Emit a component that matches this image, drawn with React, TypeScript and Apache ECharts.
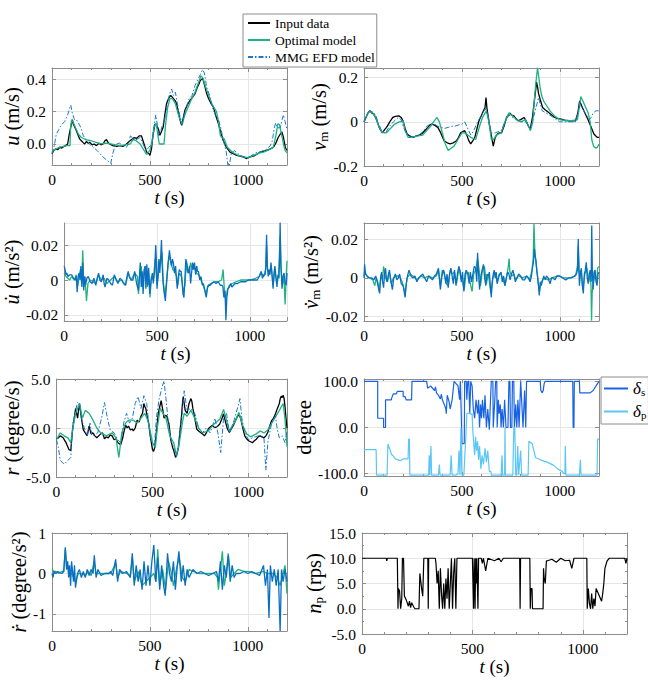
import React, { useEffect, useRef } from 'react';
import * as echarts from 'echarts';

type Pt = [number, number];

const SERIF = 'Liberation Serif';
const AX = '#8c8c8c';
const GRIDC = '#e6e6e6';
const BLACK = '#000000';
const GREEN = '#1fb27c';
const BLUE_DD = '#1a78cf';
const BLUE_ACC = '#0a6fc2';
const DS = '#1862e6';
const DP = '#5ac6f7';

// ---------- Panel 1: u (m/s) ----------
const uInput: Pt[] = [[0,-0.06],[10,-0.04],[20,-0.03],[30,-0.035],[40,-0.02],[50,-0.025],[60,-0.015],[70,-0.01],[80,0.0],[88,0.06],[95,0.1],[104,0.15],[110,0.12],[116,0.105],[125,0.08],[135,0.05],[142,0.03],[150,0.02],[158,0.01],[167,0.0],[175,0.015],[185,0.005],[193,0.01],[205,-0.005],[215,0.0],[227,-0.01],[240,0.005],[250,-0.005],[261,0.0],[270,0.02],[278,0.027],[286,0.01],[295,0.0],[310,-0.01],[330,-0.015],[345,-0.01],[363,-0.015],[380,0.0],[398,0.02],[410,0.03],[420,0.04],[433,0.035],[445,0.05],[457,0.05],[470,0.0],[483,-0.05],[495,-0.06],[500,-0.07],[508,-0.03],[515,0.05],[526,0.125],[535,0.11],[543,0.095],[551,0.054],[560,0.08],[568,0.105],[576,0.18],[585,0.25],[595,0.28],[605,0.3],[611,0.295],[620,0.28],[628,0.27],[636,0.25],[648,0.18],[656,0.14],[662,0.115],[670,0.16],[679,0.21],[690,0.24],[705,0.27],[718,0.29],[730,0.31],[742,0.35],[750,0.37],[756,0.39],[763,0.4],[770,0.404],[780,0.36],[790,0.31],[800,0.28],[812,0.25],[824,0.23],[835,0.18],[850,0.125],[862,0.07],[875,0.02],[890,-0.02],[909,-0.05],[925,-0.06],[944,-0.07],[960,-0.075],[975,-0.08],[985,-0.085],[995,-0.09],[1010,-0.08],[1029,-0.075],[1045,-0.065],[1063,-0.05],[1080,-0.045],[1097,-0.04],[1115,-0.03],[1131,-0.02],[1145,0.01],[1155,0.04],[1165,0.06],[1174,0.075],[1182,0.04],[1191,-0.02],[1200,-0.04]];
const uOpt: Pt[] = [[0,-0.05],[20,-0.03],[40,-0.02],[60,-0.015],[75,-0.01],[92,-0.01],[95,0.1],[100,0.15],[110,0.13],[120,0.1],[135,0.06],[150,0.04],[175,0.025],[200,0.02],[225,0.01],[250,0.0],[275,0.005],[300,0.0],[325,-0.005],[350,-0.01],[375,-0.005],[400,0.0],[415,0.03],[430,0.02],[450,0.0],[470,-0.04],[483,-0.065],[500,-0.04],[512,0.02],[520,0.1],[532,0.13],[540,0.06],[548,0.0],[560,0.0],[572,0.0],[580,0.12],[590,0.22],[602,0.28],[615,0.28],[630,0.25],[648,0.17],[665,0.12],[678,0.18],[692,0.22],[710,0.27],[730,0.32],[745,0.37],[760,0.42],[770,0.41],[785,0.35],[800,0.3],[820,0.24],[840,0.2],[850,0.14],[860,0.05],[868,0.04],[880,0.03],[895,-0.02],[920,-0.05],[950,-0.07],[980,-0.08],[1000,-0.085],[1030,-0.07],[1060,-0.055],[1080,-0.05],[1110,-0.035],[1130,-0.02],[1143,0.05],[1153,0.125],[1162,0.12],[1172,0.06],[1182,0.0],[1190,-0.04],[1200,-0.055]];
const uMmg: Pt[] = [[0,-0.06],[10,-0.02],[22,0.06],[35,0.09],[50,0.12],[65,0.14],[80,0.18],[90,0.22],[96,0.24],[104,0.19],[115,0.15],[125,0.15],[135,0.13],[148,0.1],[160,0.05],[175,0.03],[190,0.0],[210,-0.02],[230,-0.04],[245,-0.06],[260,-0.08],[280,-0.1],[300,-0.12],[310,-0.06],[320,-0.02],[330,0.0],[345,0.005],[360,-0.01],[380,-0.02],[392,0.0],[400,0.05],[410,0.04],[420,0.02],[435,0.03],[450,0.04],[465,0.0],[480,-0.04],[495,-0.02],[510,0.0],[520,0.1],[530,0.18],[538,0.12],[545,0.05],[555,0.08],[565,0.12],[575,0.15],[590,0.25],[600,0.31],[611,0.34],[620,0.3],[630,0.32],[640,0.25],[652,0.18],[665,0.12],[680,0.2],[700,0.28],[715,0.3],[730,0.36],[745,0.4],[758,0.43],[768,0.46],[778,0.44],[790,0.35],[805,0.3],[820,0.22],[835,0.18],[850,0.15],[862,0.1],[870,0.05],[880,0.0],[890,-0.05],[898,-0.13],[905,-0.14],[915,-0.06],[930,-0.04],[945,-0.055],[960,-0.07],[980,-0.08],[1000,-0.09],[1020,-0.07],[1040,-0.055],[1060,-0.05],[1080,-0.04],[1100,-0.03],[1115,-0.01],[1125,0.02],[1135,0.1],[1142,0.13],[1152,0.1],[1165,0.1],[1175,0.15],[1182,0.18],[1190,0.14],[1200,0.09]];

// ---------- Panel 2: v_m (m/s) ----------
const vInput: Pt[] = [[0,0.0],[10,0.02],[20,0.04],[31,0.05],[40,0.04],[50,0.035],[63,0.012],[72,-0.01],[80,-0.03],[94,-0.05],[105,-0.035],[115,-0.025],[125,-0.01],[135,0.005],[147,0.02],[160,0.025],[178,0.027],[190,0.02],[199,0.005],[210,-0.03],[220,-0.055],[235,-0.065],[252,-0.07],[265,-0.065],[280,-0.06],[294,-0.055],[310,-0.04],[325,-0.026],[336,-0.015],[346,-0.01],[360,-0.015],[377,-0.025],[392,-0.05],[409,-0.086],[425,-0.095],[440,-0.1],[456,-0.095],[472,-0.086],[483,-0.07],[493,-0.05],[503,-0.045],[514,-0.04],[525,-0.06],[535,-0.085],[545,-0.1],[556,-0.085],[566,-0.07],[577,-0.03],[587,0.005],[600,0.03],[610,0.05],[618,0.065],[623,0.11],[628,0.06],[640,-0.01],[650,-0.06],[660,-0.11],[670,-0.07],[681,-0.055],[692,-0.05],[702,-0.05],[715,-0.02],[728,0.02],[744,0.04],[755,0.03],[765,0.027],[776,0.015],[786,0.005],[800,0.01],[818,0.02],[830,0.0],[840,-0.02],[849,-0.033],[860,0.02],[870,0.095],[876,0.14],[881,0.18],[886,0.16],[891,0.13],[900,0.1],[912,0.065],[925,0.055],[943,0.042],[960,0.03],[975,0.02],[990,0.015],[1006,0.012],[1025,0.008],[1048,0.005],[1065,0.005],[1080,0.005],[1092,0.04],[1101,0.095],[1108,0.08],[1115,0.065],[1128,0.04],[1143,0.012],[1158,-0.02],[1174,-0.055],[1185,-0.065],[1191,-0.07],[1200,-0.07]];
const vOpt: Pt[] = [[0,0.0],[15,0.03],[30,0.05],[45,0.04],[60,0.02],[75,-0.02],[90,-0.045],[105,-0.05],[115,-0.05],[135,-0.03],[157,-0.01],[180,0.0],[199,0.005],[210,-0.04],[225,-0.07],[245,-0.07],[270,-0.065],[300,-0.06],[320,-0.04],[340,-0.02],[355,0.0],[373,0.02],[385,0.0],[400,-0.05],[415,-0.1],[430,-0.13],[445,-0.12],[460,-0.11],[480,-0.08],[500,-0.05],[515,-0.05],[530,-0.06],[545,-0.07],[570,-0.08],[590,-0.02],[605,0.02],[625,0.05],[638,0.0],[650,-0.08],[662,-0.08],[675,-0.06],[700,-0.05],[720,0.0],[740,0.04],[760,0.025],[780,0.01],[800,0.0],[825,0.01],[850,-0.04],[862,0.0],[870,0.1],[878,0.18],[883,0.22],[886,0.245],[893,0.2],[900,0.15],[910,0.11],[920,0.09],[935,0.07],[950,0.05],[975,0.025],[1000,0.01],[1030,0.005],[1060,0.005],[1090,0.01],[1100,0.07],[1107,0.115],[1115,0.1],[1130,0.07],[1145,0.04],[1155,0.0],[1163,-0.08],[1172,-0.11],[1185,-0.12],[1192,-0.115],[1200,-0.1]];
const vMmg: Pt[] = [[0,0.0],[15,0.03],[30,0.05],[45,0.045],[60,0.03],[75,-0.01],[90,-0.04],[110,-0.05],[130,-0.02],[150,0.0],[175,0.02],[190,0.01],[200,-0.02],[215,-0.05],[230,-0.07],[255,-0.065],[280,-0.06],[300,-0.045],[320,-0.02],[340,-0.01],[360,-0.01],[377,-0.02],[395,-0.025],[410,-0.03],[430,-0.025],[445,-0.02],[461,-0.02],[480,-0.015],[500,-0.01],[514,0.0],[525,-0.02],[545,-0.06],[560,-0.04],[580,0.0],[600,0.03],[620,0.06],[635,0.02],[650,-0.05],[670,-0.05],[700,-0.04],[720,0.0],[740,0.03],[760,0.02],[780,0.01],[800,0.0],[825,0.0],[850,-0.03],[865,0.02],[880,0.07],[891,0.11],[900,0.08],[910,0.05],[930,0.04],[950,0.03],[975,0.015],[1000,0.0],[1030,0.0],[1060,0.0],[1080,0.0],[1095,0.05],[1105,0.08],[1115,0.06],[1130,0.04],[1150,0.01],[1160,0.02],[1170,0.04],[1185,0.05],[1200,0.05]];

// ---------- Panel 3: u-dot (m/s^2) ----------
const uDotOpt: Pt[] = [[0,0.004],[10,0.002],[20,0.001],[30,0.0],[40,0.002],[55,0.0],[65,0.003],[72,-0.004],[80,0.002],[88,0.006],[94,-0.002],[100,0.017],[106,-0.004],[112,0.002],[120,-0.012],[128,-0.002],[140,0.0],[155,-0.001],[170,-0.002],[185,0.003],[200,0.0],[215,0.001],[230,-0.002],[250,0.0],[270,0.002],[290,-0.001],[310,0.0],[330,-0.003],[345,0.004],[360,0.0],[380,0.004],[395,0.002],[400,-0.008],[408,0.004],[415,0.008],[422,-0.004],[430,0.006],[440,0.008],[448,-0.004],[455,0.004],[462,-0.01],[470,0.002],[480,0.0],[490,0.012],[500,-0.003],[510,0.006],[520,0.01],[527,0.016],[533,0.0],[542,-0.009],[550,-0.002],[560,0.01],[568,0.014],[575,0.01],[585,0.006],[595,0.005],[605,0.002],[612,-0.003],[620,0.004],[632,0.002],[642,-0.007],[650,-0.003],[658,0.01],[665,0.004],[675,0.006],[681,0.01],[690,0.006],[700,0.008],[712,0.004],[725,0.003],[740,-0.001],[752,-0.004],[765,-0.008],[775,-0.003],[790,-0.002],[810,-0.001],[830,-0.001],[848,0.0],[856,0.006],[863,-0.006],[870,-0.012],[878,-0.006],[890,-0.003],[905,-0.002],[925,-0.001],[950,0.0],[975,0.0],[1000,0.0],[1030,0.001],[1050,0.002],[1062,0.004],[1075,0.002],[1085,0.006],[1090,0.02],[1095,0.006],[1105,0.004],[1115,0.008],[1125,-0.003],[1135,0.006],[1145,-0.002],[1155,0.004],[1163,0.025],[1168,0.006],[1175,-0.003],[1183,0.002],[1190,-0.014],[1196,0.003],[1200,0.011]];
const uDotData: Pt[] = [[0,0.008],[5,0.006],[10,0.003],[15,0.004],[20,0.002],[30,0.003],[40,0.003],[50,0.001],[60,0.0],[65,0.002],[70,-0.007],[75,0.002],[80,0.004],[85,0.0],[90,0.008],[95,-0.004],[100,0.01],[105,-0.006],[110,0.002],[115,-0.003],[122,0.001],[130,0.002],[140,-0.001],[150,-0.002],[160,0.001],[170,-0.003],[178,0.001],[185,0.004],[192,0.0],[200,-0.001],[210,0.003],[215,-0.002],[220,-0.004],[230,0.001],[240,0.0],[250,-0.002],[260,-0.003],[270,0.003],[280,0.0],[290,-0.002],[300,0.001],[310,0.0],[320,-0.002],[330,-0.003],[340,0.003],[345,0.005],[350,0.002],[360,0.0],[370,0.0],[380,0.005],[390,-0.002],[400,-0.006],[405,0.002],[410,0.01],[415,-0.004],[420,0.005],[425,-0.008],[430,0.003],[435,0.008],[440,-0.005],[445,0.009],[450,-0.003],[455,0.007],[461,-0.008],[468,0.0],[475,0.004],[480,-0.002],[487,0.005],[493,0.02],[497,0.01],[500,-0.005],[505,0.002],[510,0.012],[515,0.004],[520,0.014],[524,0.023],[528,0.008],[533,-0.002],[538,-0.007],[545,-0.012],[550,-0.004],[555,0.003],[560,0.01],[567,0.017],[572,0.012],[578,0.008],[583,0.012],[588,0.01],[594,0.004],[600,0.008],[605,0.0],[609,-0.005],[615,0.002],[620,0.006],[625,0.005],[630,0.005],[636,-0.003],[640,-0.008],[645,-0.01],[650,0.0],[655,0.012],[660,0.01],[665,0.006],[670,0.004],[675,0.008],[681,-0.002],[686,0.004],[692,0.01],[697,0.006],[702,0.01],[708,0.003],[714,0.008],[718,0.005],[723,0.005],[730,0.0],[737,0.002],[744,-0.003],[750,-0.002],[757,-0.006],[765,-0.01],[772,-0.004],[780,-0.003],[786,-0.003],[795,-0.002],[805,-0.001],[818,-0.002],[830,-0.001],[840,-0.003],[850,-0.003],[855,-0.004],[860,-0.01],[866,-0.006],[871,-0.023],[876,-0.01],[882,-0.005],[890,-0.004],[897,-0.002],[903,-0.004],[912,-0.003],[920,-0.002],[934,-0.002],[950,-0.001],[965,-0.001],[977,-0.001],[992,0.0],[1008,0.0],[1025,0.0],[1040,0.0],[1050,0.002],[1061,0.005],[1068,0.001],[1075,0.003],[1082,0.003],[1086,0.008],[1090,0.026],[1094,0.008],[1099,0.002],[1104,0.006],[1108,0.003],[1114,0.01],[1120,0.002],[1125,-0.005],[1130,0.004],[1135,0.008],[1140,0.002],[1146,-0.004],[1152,0.003],[1157,0.001],[1160,0.012],[1163,0.033],[1167,0.01],[1173,-0.005],[1178,0.002],[1184,0.004],[1190,-0.002],[1196,-0.003],[1200,0.004]];

// ---------- Panel 4: v_m-dot (m/s^2) ----------
const vDotOpt: Pt[] = [[0,0.001],[5,0.003],[15,0.001],[30,0.0],[45,-0.001],[55,-0.004],[62,0.0],[70,-0.002],[78,-0.006],[88,0.002],[95,-0.001],[100,0.006],[108,0.001],[118,-0.002],[128,0.003],[140,-0.003],[150,0.0],[165,0.001],[180,0.001],[195,-0.002],[210,-0.008],[220,0.0],[235,0.002],[250,0.001],[270,-0.001],[290,0.001],[310,0.0],[330,0.001],[350,0.0],[370,0.001],[380,0.004],[390,-0.004],[400,0.004],[410,0.002],[420,-0.003],[430,-0.004],[440,0.004],[450,0.002],[462,0.003],[472,-0.003],[485,0.005],[495,0.0],[505,-0.003],[512,-0.006],[520,0.002],[532,0.003],[545,-0.004],[552,-0.007],[560,0.002],[570,0.004],[580,0.01],[588,0.004],[595,-0.004],[605,0.004],[615,0.006],[625,-0.003],[635,0.002],[648,-0.008],[658,0.0],[668,0.003],[680,-0.002],[690,0.002],[700,0.002],[710,-0.001],[720,-0.004],[730,0.002],[737,0.006],[741,0.01],[745,0.003],[755,0.001],[765,0.002],[775,-0.001],[790,0.001],[810,0.0],[830,0.001],[845,-0.001],[858,0.004],[864,0.01],[868,0.028],[872,0.015],[878,0.008],[884,0.003],[890,-0.003],[896,-0.007],[905,-0.002],[920,0.0],[940,-0.001],[960,0.0],[990,0.001],[1020,0.0],[1050,0.0],[1080,0.001],[1090,0.006],[1094,0.016],[1099,0.002],[1108,0.004],[1118,-0.006],[1128,0.002],[1138,0.005],[1148,-0.002],[1155,0.002],[1159,-0.004],[1162,-0.022],[1165,-0.008],[1170,-0.003],[1180,0.002],[1188,-0.002],[1193,0.005],[1200,0.006]];
const vDotData: Pt[] = [[0,0.0],[3,0.007],[8,0.002],[15,0.001],[25,0.0],[40,0.0],[50,-0.001],[60,0.001],[70,-0.003],[75,-0.006],[80,-0.008],[85,0.0],[90,0.003],[95,-0.002],[100,-0.005],[105,0.002],[110,0.005],[115,-0.001],[120,-0.002],[125,0.002],[130,0.004],[138,-0.002],[145,-0.006],[152,0.0],[160,0.002],[168,-0.001],[175,0.0],[182,0.002],[190,-0.003],[200,-0.004],[210,-0.01],[216,-0.003],[222,0.001],[230,0.004],[240,0.001],[250,0.0],[260,0.001],[270,-0.002],[280,0.0],[290,0.001],[300,0.002],[310,0.0],[320,-0.002],[330,0.001],[340,0.0],[350,-0.001],[360,0.001],[370,0.002],[380,0.005],[385,0.0],[390,-0.006],[398,0.001],[405,0.004],[410,0.003],[418,-0.003],[424,0.002],[430,-0.005],[437,0.002],[444,0.005],[450,0.001],[456,-0.003],[462,0.004],[470,-0.004],[477,0.002],[484,0.006],[490,0.004],[497,-0.002],[503,0.003],[510,-0.007],[516,0.002],[522,0.004],[530,0.002],[537,-0.003],[543,0.003],[550,-0.002],[556,0.002],[563,0.006],[570,0.005],[576,-0.002],[580,0.013],[584,0.004],[590,-0.006],[597,0.001],[603,0.004],[610,0.007],[616,0.0],[622,-0.004],[628,0.002],[635,0.001],[640,0.003],[645,-0.004],[650,-0.01],[655,-0.002],[660,0.002],[665,0.004],[670,0.0],[675,0.003],[680,-0.003],[687,0.0],[693,0.002],[700,0.003],[706,-0.002],[713,0.001],[720,-0.004],[727,0.0],[734,0.003],[740,0.002],[746,-0.001],[753,0.002],[760,0.004],[767,0.001],[773,-0.002],[780,0.0],[790,0.002],[800,0.001],[810,-0.001],[820,-0.001],[830,0.001],[840,0.0],[848,-0.002],[855,0.001],[860,0.005],[865,0.008],[870,0.015],[874,0.011],[878,0.009],[882,0.004],[887,0.0],[891,-0.004],[895,-0.009],[900,-0.002],[905,-0.004],[910,-0.002],[918,0.001],[925,-0.001],[932,0.001],[940,0.0],[950,-0.003],[958,0.0],[965,0.0],[975,-0.001],[985,0.001],[1000,0.001],[1015,0.0],[1030,-0.001],[1045,0.0],[1060,0.0],[1075,0.001],[1085,0.002],[1090,0.004],[1094,0.02],[1097,0.006],[1100,-0.004],[1105,0.002],[1110,0.005],[1115,-0.004],[1120,-0.008],[1125,0.002],[1130,0.004],[1135,0.008],[1140,0.0],[1145,-0.003],[1150,0.002],[1155,0.004],[1160,-0.002],[1163,0.027],[1166,0.004],[1170,-0.006],[1175,0.003],[1180,0.004],[1185,-0.002],[1190,-0.004],[1195,0.002],[1200,0.003]];

// ---------- Panel 5: r (degree/s) ----------
const rInput: Pt[] = [[0,-1.1],[10,-1.0],[20,-0.8],[35,-1.0],[50,-1.5],[65,-2.2],[75,-2.3],[80,-1.0],[85,0.0],[95,1.3],[100,2.0],[105,1.5],[110,1.0],[115,1.8],[120,2.5],[125,1.8],[130,1.0],[140,-0.2],[150,-0.5],[160,-0.8],[170,0.2],[180,-0.6],[190,-0.5],[200,-0.8],[210,-1.0],[220,-0.8],[230,-0.6],[240,-0.5],[250,-1.1],[260,-0.9],[270,-1.0],[280,-0.7],[290,-0.8],[300,-1.2],[310,-1.1],[320,-1.5],[335,-1.7],[345,-1.0],[350,-0.5],[360,0.3],[368,0.0],[375,0.2],[385,-0.2],[395,-0.1],[400,-0.3],[410,0.0],[420,0.8],[430,0.6],[440,1.2],[448,1.5],[455,2.5],[460,2.2],[465,2.0],[472,1.2],[480,0.5],[490,-1.0],[500,-2.2],[505,-2.4],[510,-2.1],[520,-0.5],[530,1.5],[538,2.2],[545,2.8],[552,2.0],[560,1.0],[568,1.3],[575,1.2],[580,0.8],[585,0.5],[595,-1.2],[605,-2.0],[612,-2.4],[620,-3.0],[628,-2.6],[635,-2.0],[642,-0.5],[650,1.0],[656,2.5],[660,3.2],[665,2.5],[670,1.8],[680,1.5],[690,2.5],[700,3.0],[705,2.7],[710,2.0],[720,1.0],[730,-0.1],[740,-0.3],[750,-0.45],[760,-0.6],[770,-0.8],[780,-0.5],[790,-0.1],[800,0.1],[810,0.25],[820,0.1],[830,0.07],[840,0.2],[850,0.4],[860,0.9],[870,1.45],[880,0.6],[890,-0.1],[900,-0.45],[910,-0.1],[920,0.24],[935,0.9],[945,1.3],[955,1.2],[960,0.9],[970,0.0],[980,-0.8],[990,-1.1],[1000,-1.3],[1010,-1.4],[1020,-1.5],[1030,-1.3],[1040,-1.15],[1050,-0.9],[1060,-0.8],[1070,-0.9],[1080,-1.0],[1090,-0.8],[1100,-0.45],[1110,0.2],[1120,0.76],[1130,1.0],[1140,1.45],[1150,2.0],[1160,2.5],[1165,3.0],[1170,3.25],[1175,3.1],[1180,3.35],[1185,3.0],[1190,2.1],[1195,1.0],[1200,0.0]];
const rOpt: Pt[] = [[0,-1.2],[20,-0.5],[40,-0.8],[60,-1.0],[75,-1.5],[85,0.0],[100,1.5],[110,2.0],[120,2.5],[135,1.0],[150,1.8],[170,1.5],[190,0.8],[210,0.0],[230,-0.5],[260,-0.8],[290,-0.5],[310,-1.0],[325,-3.0],[340,-0.5],[360,0.5],[375,0.8],[400,0.8],[420,0.5],[440,1.0],[460,1.5],[475,0.8],[490,-0.5],[500,-1.5],[515,-2.0],[525,0.0],[540,2.0],[555,1.5],[570,1.0],[590,-0.8],[610,-1.5],[625,-2.8],[640,-1.5],[655,0.5],[665,1.5],[680,1.2],[700,1.8],[720,1.0],[740,0.0],[760,-0.5],[790,-0.3],[820,0.4],[850,0.9],[870,1.9],[885,0.8],[900,-0.3],[930,0.7],[950,1.6],[970,0.2],[990,-0.6],[1010,-0.9],[1040,-0.6],[1060,-0.3],[1080,-0.5],[1100,-0.2],[1130,0.8],[1160,1.8],[1180,2.5],[1190,0.8],[1200,-1.9]];
const rMmg: Pt[] = [[0,-1.2],[10,-2.0],[20,-3.3],[40,-3.7],[60,-3.3],[75,-3.0],[85,0.5],[100,1.8],[110,2.6],[120,2.4],[130,1.0],[145,0.0],[160,-0.8],[175,0.5],[185,-0.8],[200,-0.7],[215,-0.5],[235,1.0],[250,2.6],[265,1.0],[280,-0.2],[300,-0.5],[320,-1.2],[335,-1.5],[350,0.5],[365,1.5],[380,0.5],[395,1.0],[410,2.5],[425,3.2],[440,2.0],[455,3.3],[470,2.5],[485,-0.5],[495,-1.5],[510,-1.8],[520,1.0],[535,3.0],[550,4.2],[560,4.8],[570,3.0],[585,0.0],[600,-1.5],[615,-2.2],[625,-3.0],[640,-1.0],[655,1.5],[665,3.8],[680,1.8],[700,2.0],[720,1.5],[740,0.0],[760,-0.5],[780,0.0],[800,-0.5],[825,1.0],[840,-0.5],[855,-2.5],[870,1.0],[885,1.5],[900,-0.5],[920,0.5],[945,2.2],[955,3.0],[965,1.0],[980,-0.5],[1000,-1.2],[1020,-1.0],[1050,-0.8],[1080,-1.0],[1090,-4.3],[1100,-1.5],[1120,0.5],[1140,1.2],[1150,-0.2],[1160,-1.0],[1175,-0.8],[1190,-1.5],[1200,-0.3]];

// ---------- Panel 6: rudder angles (degree) ----------
const deltaS: Pt[] = [[0,100],[70,100],[70,20],[100,20],[100,0],[110,0],[110,60],[140,60],[140,62],[150,73],[165,73],[170,78],[200,78],[200,67],[210,67],[215,60],[243,60],[245,100],[320,100],[325,85],[335,88],[340,90],[350,85],[360,80],[365,88],[370,75],[380,70],[390,62],[395,72],[400,60],[410,50],[418,40],[420,30],[425,70],[435,55],[440,40],[450,60],[460,100],[470,95],[480,90],[488,60],[492,100],[496,40],[500,-35],[512,-35],[514,100],[522,100],[525,60],[530,100],[535,100],[540,30],[545,100],[552,90],[558,40],[565,20],[572,60],[580,30],[585,60],[590,0],[595,50],[600,20],[605,60],[612,20],[618,70],[625,0],[632,40],[640,-5],[646,60],[650,100],[658,100],[660,0],[668,60],[672,100],[678,100],[680,0],[686,60],[690,30],[696,50],[700,0],[705,40],[712,0],[718,60],[725,0],[735,0],[740,100],[745,100],[748,0],[755,0],[758,100],[765,100],[768,0],[775,50],[780,0],[786,60],[792,0],[800,100],[806,50],[812,0],[820,80],[826,0],[830,100],[900,100],[903,80],[910,75],[915,80],[920,95],[925,100],[1066,100],[1068,0],[1072,0],[1074,100],[1100,100],[1102,75],[1155,75],[1170,80],[1185,90],[1200,100]];
const deltaP: Pt[] = [[0,-48],[62,-48],[64,-103],[118,-103],[122,-36],[130,-45],[140,-58],[150,-62],[160,-68],[175,-70],[185,-72],[200,-68],[225,-68],[228,-25],[232,-25],[234,-103],[330,-103],[333,-60],[336,-103],[342,-40],[345,-103],[380,-103],[385,-80],[388,-103],[440,-103],[445,-60],[450,-103],[470,-103],[480,-100],[485,-50],[490,-103],[495,0],[500,-103],[510,-103],[515,-60],[520,-20],[525,30],[540,32],[548,28],[552,30],[556,-10],[560,-30],[565,-60],[570,-20],[575,-50],[580,-30],[585,-70],[590,-40],[597,-90],[603,-60],[610,-80],[618,-45],[625,-75],[632,-50],[640,-95],[648,-95],[650,-103],[700,-103],[705,-60],[708,-103],[718,-103],[720,0],[722,-103],[760,-103],[765,0],[770,0],[775,-103],[780,-103],[785,-40],[790,-103],[800,-50],[805,-103],[838,-103],[842,-30],[859,-35],[876,-65],[900,-70],[935,-75],[969,-82],[990,-90],[1012,-95],[1020,-100],[1026,-100],[1028,-40],[1031,-103],[1100,-103],[1105,-70],[1108,-103],[1190,-103],[1193,-25],[1200,-25]];

// ---------- Panel 7: r-dot (degree/s^2) ----------
const rDotOpt: Pt[] = [[0,0.1],[10,0.05],[20,0.05],[35,0.0],[50,0.05],[60,0.05],[68,0.6],[75,0.1],[82,0.2],[90,0.0],[100,0.0],[110,-0.1],[120,-0.2],[135,0.0],[150,0.0],[170,-0.05],[185,0.05],[200,-0.05],[215,0.3],[225,0.0],[250,0.0],[280,0.0],[300,0.0],[325,0.25],[335,-0.1],[350,0.05],[380,0.0],[400,-0.05],[410,0.4],[420,-0.2],[440,0.05],[460,-0.3],[480,-0.2],[500,-0.1],[520,0.0],[530,-0.2],[540,0.6],[550,-0.3],[565,0.1],[580,-0.4],[595,0.3],[610,0.0],[620,-0.3],[635,0.1],[650,0.4],[665,-0.1],[680,-0.2],[700,0.1],[720,0.05],[750,0.0],[800,0.0],[830,0.0],[845,-0.1],[850,-0.4],[860,0.1],[870,0.55],[880,-0.3],[890,0.0],[900,0.5],[912,-0.1],[930,0.0],[950,0.1],[980,0.05],[1000,0.05],[1040,0.0],[1080,0.05],[1100,0.0],[1130,0.0],[1150,-0.1],[1165,-0.3],[1180,0.0],[1190,0.2],[1200,-0.5]];
const rDotData: Pt[] = [[0,0.0],[5,-0.1],[10,0.05],[20,0.0],[30,0.05],[50,0.0],[60,0.05],[68,0.65],[75,0.1],[80,0.3],[85,-0.1],[90,0.2],[95,-0.3],[100,0.3],[110,-0.2],[115,0.2],[120,-0.35],[130,0.0],[140,0.1],[150,-0.1],[160,0.05],[170,-0.1],[180,0.1],[190,-0.05],[200,0.1],[210,0.0],[216,0.45],[225,-0.1],[235,0.1],[250,-0.05],[270,0.0],[290,0.0],[300,0.05],[310,-0.05],[325,0.35],[335,-0.2],[345,0.1],[360,0.0],[380,0.05],[400,-0.1],[410,0.5],[420,-0.3],[430,0.2],[440,-0.2],[450,0.1],[460,-0.4],[470,0.3],[480,-0.3],[490,0.2],[500,-0.3],[510,0.3],[520,0.7],[530,-0.2],[540,0.4],[550,-0.4],[560,0.2],[570,-0.3],[578,-0.55],[590,0.5],[600,0.0],[610,-0.2],[620,0.3],[630,-0.4],[640,0.2],[648,0.55],[660,-0.2],[670,0.2],[680,-0.3],[690,0.1],[700,-0.1],[720,0.1],[740,0.0],[760,0.05],[780,0.0],[800,-0.05],[820,0.0],[840,0.05],[850,-0.2],[860,0.3],[870,-0.4],[880,0.2],[890,-0.1],[900,0.45],[910,-0.2],[920,0.2],[930,-0.1],[940,0.0],[960,0.0],[980,0.05],[1000,0.0],[1020,0.05],[1040,0.0],[1060,-0.05],[1080,0.2],[1090,-0.3],[1100,0.1],[1108,-1.1],[1115,0.2],[1125,-0.2],[1135,0.1],[1145,-0.3],[1155,0.1],[1165,-1.42],[1172,0.1],[1180,-0.2],[1190,0.1],[1200,-0.2]];

// ---------- Panel 8: n_p (rps) ----------
const npData: Pt[] = [[0,10],[110,10],[112,9.5],[115,10],[160,10],[163,0],[165,4],[170,3.5],[175,0],[180,2],[183,10],[188,10],[192,2.5],[200,1.8],[210,0.5],[215,1.5],[220,0.2],[225,1.2],[235,0.3],[240,0],[258,0],[262,7],[270,4],[275,2.5],[280,10],[298,10],[300,0],[302,10],[332,10],[335,9],[340,5],[345,7.5],[350,0],[355,8],[360,3],[365,0],[370,5],[375,0],[380,6],[385,2],[390,8],[395,0],[400,5],[405,10],[410,0],[415,7],[420,10],[425,0],[430,10],[500,10],[505,0],[508,10],[512,0],[515,10],[518,5],[520,10],[525,0],[528,10],[540,10],[545,9],[550,10],[560,7.5],[570,10],[600,9.5],[620,10],[630,9.3],[640,10],[714,10],[716,0],[718,10],[760,10],[762,0],[765,4],[770,4],[772,0],[820,0],[822,8],[825,6],[830,5],[835,9.5],[840,9.5],[860,9.8],[880,9.2],[900,10],[920,9.5],[940,9.6],[950,8],[960,10],[1018,10],[1020,0],[1025,4],[1030,1],[1035,0],[1040,3],[1045,0],[1050,2],[1055,0.5],[1060,4],[1070,3],[1080,2],[1085,1.5],[1090,3],[1095,5],[1100,8],[1110,9.5],[1120,10],[1190,10],[1195,9],[1200,10]];

const T_MIN = 0;
const T_MAX = 1200;
const T_STEP = 500;

const richBase = (size: number) => ({
  i: { fontFamily: SERIF, fontStyle: 'italic', fontSize: size, color: '#000' },
  sub: { fontFamily: SERIF, fontSize: Math.round(size * 0.65), color: '#000', verticalAlign: 'bottom', lineHeight: size * 0.9 },
});

interface PanelSpec {
  left: number; top: number; width: number; height: number;
  yMin: number; yMax: number; yInterval?: number; ySplit?: number;
  yFmt: (v: number) => string; yName: string; yGap: number; xGap: number;
  showMinY: boolean; showMaxY: boolean; box: boolean; yMinor?: number;
}

const fixed1 = (v: number) => v.toFixed(1);
const plain = (v: number) => String(v);

const panels: PanelSpec[] = [
  { left: 52, top: 68, width: 235, height: 97, yMin: -0.13, yMax: 0.47, ySplit: 3, yFmt: fixed1, yName: '{i|u} (m/s)', yGap: 25, xGap: 20, showMinY: false, showMaxY: false, box: true },
  { left: 364, top: 68, width: 235, height: 98, yMin: -0.2, yMax: 0.244, ySplit: 2, yFmt: plain, yName: '{i|v}{sub|m} (m/s)', yGap: 30, xGap: 20, showMinY: true, showMaxY: false, box: true },
  { left: 52, top: 223, width: 235, height: 98, yMin: -0.0235, yMax: 0.0327, ySplit: 3, yFmt: plain, yName: '{i|u̇} (m/s²)', yGap: 38, xGap: 21, showMinY: false, showMaxY: false, box: false },
  { left: 364, top: 223, width: 235, height: 98, yMin: -0.0222, yMax: 0.0283, ySplit: 3, yFmt: plain, yName: '{i|v̇}{sub|m} (m/s²)', yGap: 31, xGap: 21, showMinY: false, showMaxY: false, box: true },
  { left: 52, top: 379, width: 235, height: 98, yMin: -5, yMax: 5, yInterval: 5, yFmt: fixed1, yName: '{i|r} (degree/s)', yGap: 25, xGap: 21, showMinY: true, showMaxY: true, box: true },
  { left: 364, top: 379, width: 235, height: 97, yMin: -105, yMax: 105, ySplit: 2, yFmt: fixed1, yName: 'degree', yGap: 45, xGap: 21, showMinY: false, showMaxY: false, box: true },
  { left: 52, top: 533, width: 235, height: 98, yMin: -1.42, yMax: 1, ySplit: 3, yFmt: plain, yName: '{i|ṙ} (degree/s²)', yGap: 22, xGap: 21, showMinY: false, showMaxY: true, box: true },
  { left: 362, top: 533, width: 265, height: 101, yMin: -5, yMax: 15, yInterval: 5, yFmt: fixed1, yName: '{i|n}{sub|p} (rps)', yGap: 34, xGap: 19, showMinY: true, showMaxY: true, box: true, yMinor: 2 },
];

function buildOption() {
  const grid: any[] = [];
  const xAxis: any[] = [];
  const yAxis: any[] = [];
  const lineAx = { show: true, onZero: false, lineStyle: { color: AX, width: 1 } };
  const tick = { show: true, inside: true, length: 4, lineStyle: { color: AX, width: 1 } };
  panels.forEach((p, i) => {
    grid.push({ left: p.left, top: p.top, width: p.width, height: p.height, show: false, containLabel: false });
    xAxis.push({
      gridIndex: i, type: 'value', position: 'bottom', min: T_MIN, max: T_MAX, interval: T_STEP,
      axisLine: lineAx, axisTick: tick,
      minorTick: { show: true, splitNumber: 5, length: 2, lineStyle: { color: AX } },
      axisLabel: { color: '#000', fontFamily: SERIF, fontSize: 15.5, margin: 6, showMaxLabel: false, formatter: (v: number) => String(v) },
      splitLine: { show: true, lineStyle: { color: GRIDC, width: 1 } },
      name: '{i|t} (s)', nameLocation: 'middle', nameGap: p.xGap,
      nameTextStyle: { fontFamily: SERIF, fontSize: 19, color: '#000', rich: richBase(19) },
    });
    xAxis.push({
      gridIndex: i, type: 'value', position: 'top', min: T_MIN, max: T_MAX, interval: T_STEP,
      show: p.box,
      axisLine: lineAx, axisTick: tick,
      minorTick: { show: true, splitNumber: 5, length: 2, lineStyle: { color: AX } },
      axisLabel: { show: false }, splitLine: { show: false },
    });
    const yBase: any = { gridIndex: i, type: 'value', min: p.yMin, max: p.yMax };
    if (p.yInterval) yBase.interval = p.yInterval; else yBase.splitNumber = p.ySplit;
    yAxis.push({
      ...yBase, position: 'left',
      axisLine: lineAx, axisTick: tick,
      minorTick: { show: !!p.yMinor, splitNumber: p.yMinor || 2, length: 2, lineStyle: { color: AX } },
      axisLabel: { color: '#000', fontFamily: SERIF, fontSize: 15.5, margin: 6, showMinLabel: p.showMinY, showMaxLabel: p.showMaxY, formatter: p.yFmt },
      splitLine: { show: true, lineStyle: { color: GRIDC, width: 1 } },
      name: p.yName, nameLocation: 'middle', nameGap: p.yGap,
      nameTextStyle: { fontFamily: SERIF, fontSize: 20.5, color: '#000', rich: richBase(20.5) },
    });
    yAxis.push({
      ...yBase, position: 'right', show: p.box,
      axisLine: lineAx, axisTick: tick,
      minorTick: { show: !!p.yMinor, splitNumber: p.yMinor || 2, length: 2, lineStyle: { color: AX } },
      axisLabel: { show: false }, splitLine: { show: false },
    });
  });

  const line = (name: string, idx: number, data: Pt[], color: string, width: number, type: any = 'solid', z = 2) => ({
    name, type: 'line', xAxisIndex: idx * 2, yAxisIndex: idx * 2, data,
    symbol: 'none', showSymbol: false, z,
    lineStyle: { color, width, type }, itemStyle: { color },
    emphasis: { disabled: true },
  });
  const DASHDOT = [5, 2, 1.5, 2];

  const series = [
    line('Input data', 0, uInput, BLACK, 1.3),
    line('Optimal model', 0, uOpt, GREEN, 1.3),
    line('MMG EFD model', 0, uMmg, BLUE_DD, 1, DASHDOT),
    line('Input data', 1, vInput, BLACK, 1.3),
    line('Optimal model', 1, vOpt, GREEN, 1.3),
    line('MMG EFD model', 1, vMmg, BLUE_DD, 1, DASHDOT),
    line('Optimal model acc', 2, uDotOpt, GREEN, 1.3),
    line('Input data acc', 2, uDotData, BLUE_ACC, 1.3),
    line('Optimal model acc', 3, vDotOpt, GREEN, 1.3),
    line('Input data acc', 3, vDotData, BLUE_ACC, 1.3),
    line('Input data', 4, rInput, BLACK, 1.3),
    line('Optimal model', 4, rOpt, GREEN, 1.3),
    line('MMG EFD model', 4, rMmg, BLUE_DD, 1, DASHDOT),
    line('δs', 5, deltaS, DS, 1.2),
    line('δp', 5, deltaP, DP, 1.2),
    line('Optimal model acc', 6, rDotOpt, GREEN, 1.3),
    line('Input data acc', 6, rDotData, BLUE_ACC, 1.3),
    line('n_p', 7, npData, BLACK, 1.2),
  ];

  const hiddenSymbol = { opacity: 0, borderWidth: 0 };
  const legend = [
    {
      data: ['Input data', 'Optimal model', 'MMG EFD model'],
      orient: 'vertical', left: 243, top: 14,
      itemWidth: 22, itemHeight: 13, itemGap: 3,
      padding: [2, 2, 3, 4],
      backgroundColor: '#fff', borderColor: AX, borderWidth: 1, borderRadius: 0,
      selectedMode: false,
      itemStyle: hiddenSymbol,
      textStyle: { fontFamily: SERIF, fontSize: 13.5, color: '#000' },
    },
    {
      data: ['δs', 'δp'],
      orient: 'vertical', left: 601, top: 377,
      itemWidth: 24, itemHeight: 14, itemGap: 6,
      padding: [3, 2, 4, 2],
      backgroundColor: '#fff', borderColor: AX, borderWidth: 1, borderRadius: 0,
      selectedMode: false,
      itemStyle: hiddenSymbol,
      formatter: (n: string) => (n === 'δs' ? '{i|δ}{sub|s}' : '{i|δ}{sub|p}'),
      textStyle: { fontFamily: SERIF, fontSize: 17, color: '#000', rich: richBase(17) },
    },
  ];

  return { animation: false, backgroundColor: '#fff', grid, xAxis, yAxis, series, legend };
}

export default function App() {
  const ref = useRef<HTMLDivElement>(null);
  useEffect(() => {
    if (!ref.current) return;
    const chart = echarts.init(ref.current, undefined, { renderer: 'svg' });
    chart.setOption(buildOption() as any);
    return () => chart.dispose();
  }, []);
  return <div ref={ref} style={{ position: 'absolute', left: 0, top: 0, width: 648, height: 681, background: '#fff' }} />;
}
